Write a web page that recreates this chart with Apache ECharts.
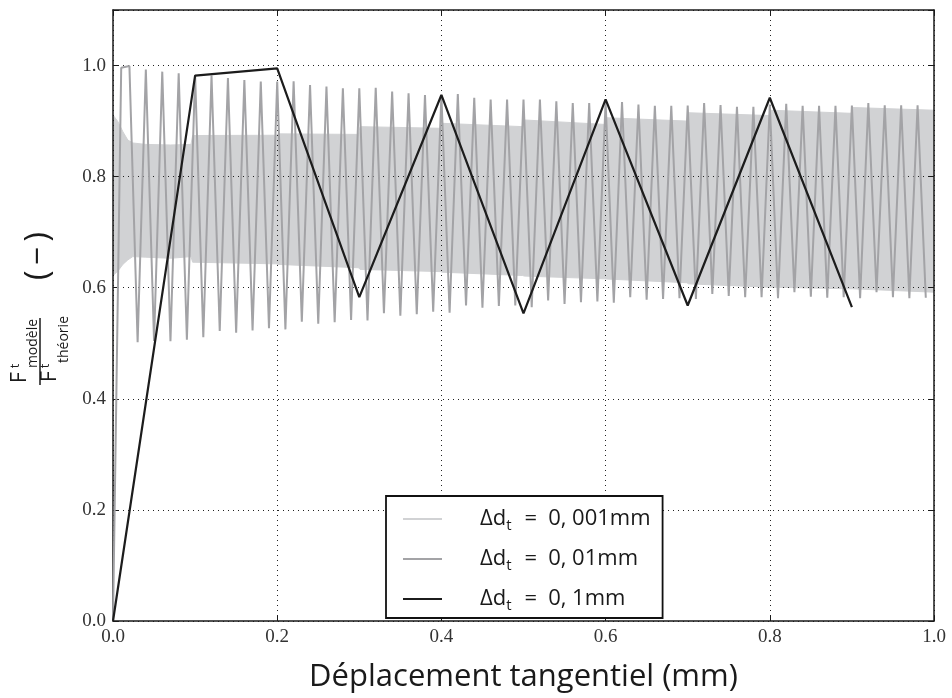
<!DOCTYPE html>
<html>
<head>
<meta charset="utf-8">
<script src="https://cdn.jsdelivr.net/npm/echarts@6/dist/echarts.min.js"></script>
<style>
html,body{margin:0;padding:0;background:#fff;}
#chart{width:952px;height:698px;}
</style>
</head>
<body>
<div id="chart"></div>
<script>
// ---- data ----
const xTicks = [0.0, 0.2, 0.4, 0.6, 0.8, 1.0];
const yTicks = [0.0, 0.2, 0.4, 0.6, 0.8, 1.0];

// Δd = 0,1 mm series (x step 0.1)
const coarseX = [0.0, 0.1, 0.2, 0.3, 0.4, 0.5, 0.6, 0.7, 0.8, 0.9];
const coarseY = [0.0, 0.982, 0.995, 0.583, 0.947, 0.554, 0.939, 0.568, 0.942, 0.565];

// Δd = 0,01 mm series (x step 0.01, from 0.00 to 0.99)
const mediumY = [
  0.0, 0.996, 0.999, 0.502, 0.993, 0.504, 0.989, 0.5035, 0.986, 0.5065,
  0.983, 0.511, 0.982, 0.522, 0.9775, 0.519, 0.974, 0.523, 0.971, 0.527,
  0.971, 0.525, 0.9716, 0.539, 0.965, 0.535, 0.962, 0.538, 0.959, 0.542,
  0.959, 0.541, 0.960, 0.554, 0.953, 0.5495, 0.950, 0.5525, 0.947, 0.557,
  0.946, 0.555, 0.9486, 0.568, 0.942, 0.564, 0.9386, 0.567, 0.9386, 0.568,
  0.9386, 0.565, 0.939, 0.577, 0.9356, 0.571, 0.9327, 0.574, 0.9327, 0.5755,
  0.934, 0.573, 0.9345, 0.583, 0.930, 0.5785, 0.9274, 0.580, 0.9274, 0.581,
  0.928, 0.580, 0.9327, 0.589, 0.929, 0.585, 0.9256, 0.583, 0.9256, 0.583,
  0.930, 0.581, 0.931, 0.592, 0.9274, 0.584, 0.9274, 0.582, 0.9274, 0.583,
  0.928, 0.581, 0.9327, 0.592, 0.9285, 0.583, 0.9285, 0.581, 0.9285, 0.582
];
const mediumStep = 0.01;

// Δd = 0,001 mm series, drawn as its envelope (too dense to resolve)
const bandX = [0, 0.006, 0.012, 0.018, 0.024, 0.04, 0.07, 0.095, 0.097, 0.199, 0.201, 0.299, 0.301,
  0.399, 0.401, 0.499, 0.501, 0.599, 0.601, 0.699, 0.701, 0.799, 0.801, 0.899, 0.901, 1.0];
const bandUpper = [0.911, 0.899, 0.881, 0.866, 0.8606, 0.858, 0.857, 0.858, 0.874, 0.8745, 0.877, 0.876, 0.890,
  0.887, 0.896, 0.890, 0.902, 0.894, 0.906, 0.900, 0.915, 0.910, 0.9196, 0.914, 0.9244, 0.9196];
const bandLower = [0.622, 0.630, 0.642, 0.650, 0.656, 0.655, 0.653, 0.656, 0.646, 0.643, 0.642, 0.636, 0.633,
  0.629, 0.628, 0.622, 0.621, 0.616, 0.6157, 0.609, 0.607, 0.601, 0.601, 0.598, 0.598, 0.592];

const seriesNames = ['0,001', '0,01', '0,1'];
const legendTexts = {'0,001': '0, 001mm', '0,01': '0, 01mm', '0,1': '0, 1mm'};

// ---- chart ----
const SANS = 'Open Sans';
const SERIF = 'Liberation Serif';
const chart = echarts.init(document.getElementById('chart'), null, {renderer: 'canvas'});

const mediumData = mediumY.map((v, i) => [+(i * mediumStep).toFixed(2), v]);
const coarseData = coarseX.map((x, i) => [x, coarseY[i]]);
const bandData = bandX.map((x, i) => [x, bandUpper[i], bandLower[i]]);

const gridLine = {show: true, lineStyle: {type: [1, 4], color: '#222', width: 1}};
const axLine = {show: true, onZero: false, lineStyle: {color: '#1a1a1a', width: 1.5}};
const tick = {show: true, inside: true, length: 6, lineStyle: {color: '#1a1a1a', width: 1}};

function renderBand(params, api) {
  if (params.dataIndex !== 0) return null;
  const pts = [];
  for (let i = 0; i < bandX.length; i++) pts.push(api.coord([bandX[i], bandUpper[i]]));
  for (let i = bandX.length - 1; i >= 0; i--) pts.push(api.coord([bandX[i], bandLower[i]]));
  return {type: 'polygon', shape: {points: pts}, style: {fill: '#d1d2d4', stroke: '#d1d2d4', lineWidth: 1}};
}

const option = {
  backgroundColor: '#fff',
  animation: false,
  grid: {left: 113, right: 18, top: 10, bottom: 67, containLabel: false},
  xAxis: [
    {type: 'value', min: 0, max: 1, interval: 0.2, position: 'bottom',
     axisLine: axLine, axisTick: tick, splitLine: gridLine,
     axisLabel: {formatter: v => v.toFixed(1), fontFamily: SERIF, fontSize: 19, color: '#333', margin: 7},
     name: 'Déplacement tangentiel (mm)', nameLocation: 'middle', nameGap: 41,
     nameTextStyle: {fontFamily: SANS, fontSize: 31, color: '#1a1a1a'}},
    {type: 'value', min: 0, max: 1, interval: 0.2, position: 'top',
     axisLine: axLine, axisTick: tick, splitLine: {show: false}, axisLabel: {show: false}}
  ],
  yAxis: [
    {type: 'value', min: 0, max: 1.1, interval: 0.2, position: 'left',
     axisLine: axLine, axisTick: tick, splitLine: gridLine,
     axisLabel: {formatter: v => (v > 1.05 ? '' : v.toFixed(1)), fontFamily: SERIF, fontSize: 19, color: '#333', margin: 7}},
    {type: 'value', min: 0, max: 1.1, interval: 0.2, position: 'right',
     axisLine: axLine, axisTick: tick, splitLine: {show: false}, axisLabel: {show: false}}
  ],
  legend: {
    orient: 'vertical', left: 386, top: 496,
    padding: [9, 12, 5, 17], itemGap: 12, itemWidth: 39, itemHeight: 2,
    backgroundColor: '#fff', borderColor: '#111', borderWidth: 1.8, borderRadius: 0,
    data: [
      {name: '0,001', icon: 'rect', itemStyle: {color: '#d1d2d4', borderWidth: 0}},
      {name: '0,01', icon: 'rect', itemStyle: {color: '#a3a3a6', borderWidth: 0}},
      {name: '0,1', icon: 'rect', itemStyle: {color: '#1c1c1c', borderWidth: 0}}
    ],
    formatter: n => '{g|}{a|Δd}{s|t}{e|=}{a|' + legendTexts[n] + '}',
    textStyle: {
      fontFamily: SANS, fontSize: 22, color: '#1a1a1a', lineHeight: 28,
      rich: {
        g: {width: 33, lineHeight: 28},
        a: {fontFamily: SANS, fontSize: 22, color: '#1a1a1a', lineHeight: 28},
        s: {fontFamily: SANS, fontSize: 15, color: '#1a1a1a', lineHeight: 14, verticalAlign: 'bottom'},
        e: {fontFamily: SANS, fontSize: 22, color: '#1a1a1a', lineHeight: 28, padding: [0, 11, 0, 13]}
      }
    },
    selectedMode: false
  },
  series: [
    {type: 'custom', name: seriesNames[0], data: bandData, renderItem: renderBand,
     color: '#d1d2d4', itemStyle: {color: '#d1d2d4'}, z: -1, silent: true,
     encode: {x: 0, y: [1, 2]}, clip: true},
    {type: 'line', name: seriesNames[1], data: mediumData, symbol: 'none',
     color: '#a3a3a6', lineStyle: {width: 2, color: '#a3a3a6'}, z: 2},
    {type: 'line', name: seriesNames[2], data: coarseData, symbol: 'none',
     color: '#1c1c1c', lineStyle: {width: 2.2, color: '#1c1c1c'}, z: 3}
  ],
  graphic: [
    {type: 'group', x: 40, y: 385, rotation: Math.PI / 2, children: [
      {type: 'line', shape: {x1: 0, y1: 0, x2: 67, y2: 0}, style: {stroke: '#1a1a1a', lineWidth: 1.5}},
      {type: 'text', x: 7.5, y: -19.5, style: {text: 'F', font: '21px "' + SANS + '"', fill: '#1a1a1a', textAlign: 'center', textVerticalAlign: 'middle'}},
      {type: 'text', x: 19, y: -25, style: {text: 't', font: '13px "' + SANS + '"', fill: '#1a1a1a', textAlign: 'center', textVerticalAlign: 'middle'}},
      {type: 'text', x: 41.5, y: -7, style: {text: 'modèle', font: '14px "' + SANS + '"', fill: '#1a1a1a', textAlign: 'center', textVerticalAlign: 'middle'}},
      {type: 'text', x: 8.5, y: 10.5, style: {text: 'F', font: '21px "' + SANS + '"', fill: '#1a1a1a', textAlign: 'center', textVerticalAlign: 'middle'}},
      {type: 'text', x: 19, y: 5, style: {text: 't', font: '13px "' + SANS + '"', fill: '#1a1a1a', textAlign: 'center', textVerticalAlign: 'middle'}},
      {type: 'text', x: 45.5, y: 24, style: {text: 'théorie', font: '14px "' + SANS + '"', fill: '#1a1a1a', textAlign: 'center', textVerticalAlign: 'middle'}},
      {type: 'text', x: 129, y: -1, style: {text: '(\u2009−\u2009)', font: '32px "' + SANS + '"', fill: '#1a1a1a', textAlign: 'center', textVerticalAlign: 'middle'}}
    ]}
  ]
};
chart.setOption(option);
</script>
</body>
</html>
